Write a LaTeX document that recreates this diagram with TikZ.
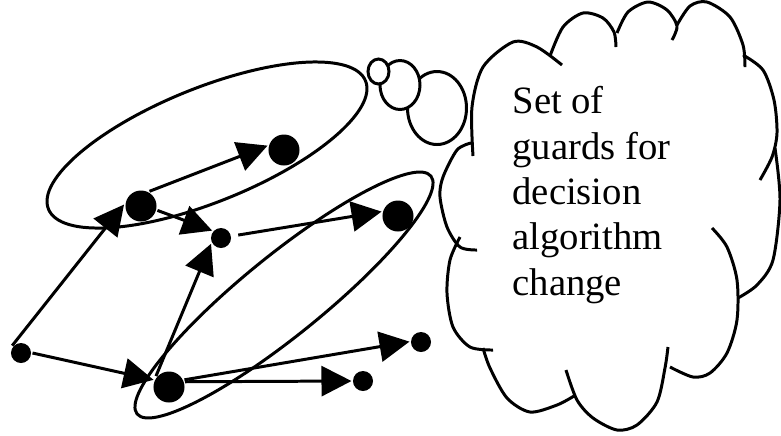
\documentclass[tikz,border=0pt]{standalone}
\usepackage{fontspec}
\setmainfont{Liberation Serif}
\usetikzlibrary{arrows.meta,positioning}

\begin{document}
\begin{tikzpicture}[x=0.01cm,y=-0.01cm,line width=0.85pt]
\tikzstyle{bigstate}=[circle,fill=black,inner sep=0pt,minimum size=0.31cm]
\tikzstyle{smallstate}=[circle,fill=black,inner sep=0pt,minimum size=0.2cm]
\tikzstyle{trans}=[-{Triangle[length=0.3cm,width=0.3cm]}]
\tikzstyle{bubble}=[draw=black,fill=white]

\useasboundingbox (0,0) rectangle (781,435);

% groups of states
\draw[rotate around={22:(207,145)}] (207,145) ellipse (171 and 57);
\draw[rotate around={39:(284,295)}] (284,295) ellipse (189 and 40);

\node[smallstate] (q0) at (21,353) {};
\node[bigstate] (q1) at (141,206) {};
\node[bigstate] (q2) at (284,150) {};
\node[smallstate] (q3) at (221,238) {};
\node[bigstate] (q4) at (398,216) {};
\node[bigstate] (q5) at (169,387) {};
\node[smallstate] (q6) at (421,342) {};
\node[smallstate] (q7) at (363,381) {};

\path
  (q0.140) edge [trans] (q1.175)
  (q0.east) edge [trans] (q5.155)
  (q1.60) edge [trans] (q2.165)
  (q1.-15) edge [trans] (q3.140)
  (q3.10) edge [trans, shorten <=0.06cm] (q4.165)
  (q5.140) edge [trans] (q3.210)
  (q5.25) edge [trans] (q6.178)
  (q5.18) edge [trans] (q7.west);

% thought bubbles
\draw[bubble] (437,108) ellipse (29.5 and 36.5);
\draw[bubble] (400,85) ellipse (20 and 24.5);
\draw[bubble] (378.5,71.5) ellipse (10.5 and 12.5);

% cloud
\draw plot[smooth] coordinates {(473,156) (472,107) (483,67) (513,42) (537,47) (562,65)};
\draw plot[smooth] coordinates {(550,56) (563,27) (583,13) (603,18) (614,32) (616,47)};
\draw plot[smooth] coordinates {(617,33) (628,12) (648,2) (667,10) (677,26) (672,40)};
\draw plot[smooth] coordinates {(677,25) (690,6) (707,2) (730,17) (743,45) (745,67)};
\draw plot[smooth] coordinates {(743,55) (763,70) (774,100) (777,133) (772,157) (760,180)};
\draw plot[smooth] coordinates {(775,148) (780,200) (773,260) (757,285) (738,298)};
\draw plot[smooth] coordinates {(712,228) (727,247) (737,280) (737,320) (727,353) (710,373) (693,377) (670,367)};
\draw plot[smooth] coordinates {(668,347) (665,368) (657,402) (637,425) (617,430) (593,418) (577,400) (566,370)};
\draw plot[smooth] coordinates {(574,396) (557,405) (530,412) (507,398) (490,368) (483,348)};
\draw plot[smooth] coordinates {(460,237) (450,260) (447,293) (453,327) (470,347) (493,350)};
\draw plot[smooth] coordinates {(471,143) (457,150) (443,177) (440,197) (447,227) (460,247) (477,250)};

\node[anchor=north west,inner sep=0pt,align=left,font=\fontsize{11pt}{12.9pt}\selectfont] (guards) at (511,85) {Set of\\guards for\\decision\\algorithm\\change};
\end{tikzpicture}
\end{document}
